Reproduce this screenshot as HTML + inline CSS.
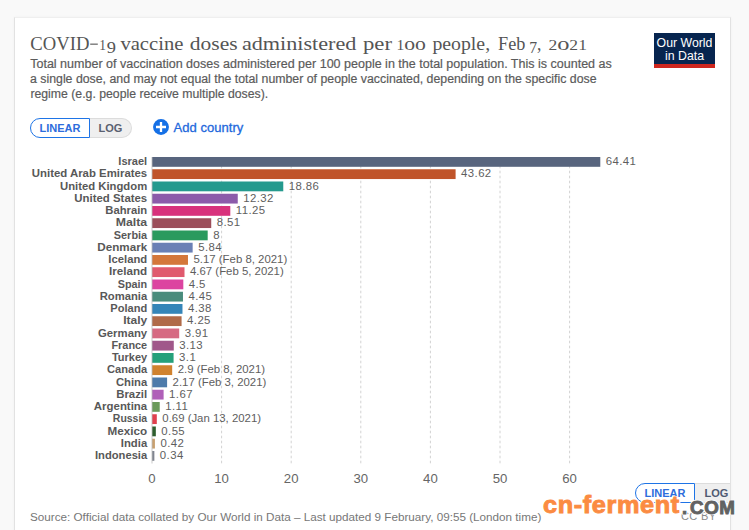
<!DOCTYPE html>
<html><head><meta charset="utf-8">
<style>
html,body{margin:0;padding:0;}
body{width:749px;height:530px;overflow:hidden;background:#f9f9f9;position:relative;font-family:"Liberation Sans",sans-serif;}
.card{position:absolute;left:14px;top:17px;width:715px;height:600px;background:#fff;border-left:1px solid #e2e2e2;border-right:1px solid #e2e2e2;border-top:1px solid #efefef;box-shadow:0 0 3px rgba(0,0,0,0.035);}
.logo{position:absolute;left:654px;top:33px;width:61px;height:31px;background:#07254f;border-bottom:4px solid #ce261e;color:#fff;font-size:12.3px;line-height:13.6px;text-align:center;}
.logo div{position:relative;top:3.8px;}
.tog{position:absolute;top:118px;height:19.6px;box-sizing:border-box;font-size:11px;font-weight:bold;line-height:18px;text-align:center;}
.lin{left:30px;width:60px;border:1.5px solid #1e74e6;border-radius:10px 0 0 10px;color:#2d6ddc;background:#fff;}
.log{left:90px;width:42px;border:1px solid #dcdcdc;border-left:none;border-radius:0 10px 10px 0;background:#efefef;color:#5a6070;}
.add{position:absolute;left:173.5px;top:119.5px;font-size:13px;color:#2268dc;white-space:nowrap;-webkit-text-stroke:0.3px #2268dc;letter-spacing:0.05px;}
.plus{position:absolute;left:153px;top:119px;overflow:visible;}
svg.chart{position:absolute;left:0;top:0;}
.ttl{font-family:"Liberation Serif",serif;font-size:19.8px;fill:#555;}
.sub2{font-family:"Liberation Sans",sans-serif;font-size:12.45px;fill:#5b5b5b;stroke:#5b5b5b;stroke-width:0.2px;}
.lab{font-family:"Liberation Sans",sans-serif;font-size:11px;font-weight:bold;fill:#585858;}
.val{font-family:"Liberation Sans",sans-serif;font-size:11.4px;fill:#5e5e5e;}
.ax{font-family:"Liberation Sans",sans-serif;font-size:13.2px;fill:#666;}
.src{position:absolute;left:30px;top:510px;font-size:11.7px;color:#777;white-space:nowrap;}
.cc{position:absolute;left:681px;top:510.3px;font-size:11px;color:#8a8a8a;letter-spacing:0.35px;white-space:nowrap;}
.tog2{position:absolute;top:483px;height:19.6px;box-sizing:border-box;font-size:11px;font-weight:bold;line-height:18.4px;text-align:center;}
.lin2{left:635px;width:60px;border:1.5px solid #1e74e6;border-radius:10px 0 0 10px;color:#2d6ddc;background:#fff;}
.log2{left:695px;width:35px;border-top:1px solid #dcdcdc;border-bottom:1px solid #dcdcdc;background:#efefef;color:#4f5a72;text-indent:9.5px;text-align:left;overflow:hidden;}
.wm{position:absolute;font-weight:bold;white-space:nowrap;transform-origin:0 0;-webkit-text-stroke:0.9px;text-shadow:1.2px 0 #fff,-1.2px 0 #fff,0 1.2px #fff,0 -1.2px #fff,1px 1px #fff,-1px -1px #fff,1px -1px #fff,-1px 1px #fff,0 0 3px #fff;line-height:1;}
.wm1{left:542.5px;top:493.1px;font-size:24px;color:#fb8b42;-webkit-text-stroke-color:#fb8b42;transform:scaleX(1.053);letter-spacing:0.6px;}
.wm2{left:682px;top:499px;font-size:18.4px;color:#626262;-webkit-text-stroke-color:#626262;}
.wm3{left:689.5px;top:499px;font-size:18.4px;color:#626262;-webkit-text-stroke-color:#626262;transform:scaleX(1.02);letter-spacing:0.6px;}
</style></head><body>
<div class="card"></div>
<div class="logo"><div>Our World<br>in Data</div></div>
<div class="tog lin">LINEAR</div><div class="tog log">LOG</div>
<svg class="plus" width="16" height="16" viewBox="0 0 16 16"><circle cx="8" cy="8" r="7.95" fill="#1570e6"/><path d="M8 3V13M3 8H13" stroke="#fff" stroke-width="2.3"/></svg>
<div class="add">Add country</div>
<svg class="chart" width="749" height="530">
<line x1="221.60" y1="157.0" x2="221.60" y2="463.5" stroke="#d2d2d2" stroke-width="1" stroke-dasharray="2.6,2.4" stroke-dashoffset="1.3"/>
<line x1="291.20" y1="157.0" x2="291.20" y2="463.5" stroke="#d2d2d2" stroke-width="1" stroke-dasharray="2.6,2.4" stroke-dashoffset="1.3"/>
<line x1="360.80" y1="157.0" x2="360.80" y2="463.5" stroke="#d2d2d2" stroke-width="1" stroke-dasharray="2.6,2.4" stroke-dashoffset="1.3"/>
<line x1="430.40" y1="157.0" x2="430.40" y2="463.5" stroke="#d2d2d2" stroke-width="1" stroke-dasharray="2.6,2.4" stroke-dashoffset="1.3"/>
<line x1="500.00" y1="157.0" x2="500.00" y2="463.5" stroke="#d2d2d2" stroke-width="1" stroke-dasharray="2.6,2.4" stroke-dashoffset="1.3"/>
<line x1="569.60" y1="157.0" x2="569.60" y2="463.5" stroke="#d2d2d2" stroke-width="1" stroke-dasharray="2.6,2.4" stroke-dashoffset="1.3"/>
<rect x="152.00" y="157.00" width="448.29" height="9.8" fill="#58657e"/>
<rect x="152.00" y="169.25" width="303.60" height="9.8" fill="#c0542a"/>
<rect x="152.00" y="181.50" width="131.27" height="9.8" fill="#259a8e"/>
<rect x="152.00" y="193.75" width="85.75" height="9.8" fill="#8c5baa"/>
<rect x="152.00" y="206.00" width="78.30" height="9.8" fill="#d8327c"/>
<rect x="152.00" y="218.25" width="59.23" height="9.8" fill="#9c4e5a"/>
<rect x="152.00" y="230.50" width="55.68" height="9.8" fill="#2a9a5e"/>
<rect x="152.00" y="242.75" width="40.65" height="9.8" fill="#6a80b5"/>
<rect x="152.00" y="255.00" width="35.98" height="9.8" fill="#d4773a"/>
<rect x="152.00" y="267.25" width="32.50" height="9.8" fill="#e05a6e"/>
<rect x="152.00" y="279.50" width="31.32" height="9.8" fill="#dc44a0"/>
<rect x="152.00" y="291.75" width="30.97" height="9.8" fill="#4a8c7c"/>
<rect x="152.00" y="304.00" width="30.48" height="9.8" fill="#3585b8"/>
<rect x="152.00" y="316.25" width="29.58" height="9.8" fill="#b06a48"/>
<rect x="152.00" y="328.50" width="27.21" height="9.8" fill="#d66a82"/>
<rect x="152.00" y="340.75" width="21.78" height="9.8" fill="#a0578a"/>
<rect x="152.00" y="353.00" width="21.58" height="9.8" fill="#25a07a"/>
<rect x="152.00" y="365.25" width="20.18" height="9.8" fill="#d0822e"/>
<rect x="152.00" y="377.50" width="15.10" height="9.8" fill="#4e7baa"/>
<rect x="152.00" y="389.75" width="11.62" height="9.8" fill="#b060b8"/>
<rect x="152.00" y="402.00" width="7.73" height="9.8" fill="#6a9a5a"/>
<rect x="152.00" y="414.25" width="4.80" height="9.8" fill="#e0404e"/>
<rect x="152.00" y="426.50" width="3.83" height="9.8" fill="#2e5e2e"/>
<rect x="152.00" y="438.75" width="2.92" height="9.8" fill="#c8a070"/>
<rect x="152.00" y="451.00" width="2.37" height="9.8" fill="#808590"/>
<line x1="152.0" y1="157.0" x2="152.0" y2="463.5" stroke="#bbb" stroke-width="0.8"/>
<text x="147.2" y="165.00" text-anchor="end" class="lab" textLength="28.85" lengthAdjust="spacingAndGlyphs">Israel</text>
<text x="605.79" y="165.00" class="val" letter-spacing="0.4">64.41</text>
<text x="147.2" y="177.25" text-anchor="end" class="lab" textLength="115.40" lengthAdjust="spacingAndGlyphs">United Arab Emirates</text>
<text x="461.10" y="177.25" class="val" letter-spacing="0.4">43.62</text>
<text x="147.2" y="189.50" text-anchor="end" class="lab" textLength="87.15" lengthAdjust="spacingAndGlyphs">United Kingdom</text>
<text x="288.77" y="189.50" class="val" letter-spacing="0.4">18.86</text>
<text x="147.2" y="201.75" text-anchor="end" class="lab" textLength="72.82" lengthAdjust="spacingAndGlyphs">United States</text>
<text x="243.25" y="201.75" class="val" letter-spacing="0.4">12.32</text>
<text x="147.2" y="214.00" text-anchor="end" class="lab" textLength="41.88" lengthAdjust="spacingAndGlyphs">Bahrain</text>
<text x="235.80" y="214.00" class="val" letter-spacing="0.4">11.25</text>
<text x="147.2" y="226.25" text-anchor="end" class="lab" textLength="31.49" lengthAdjust="spacingAndGlyphs">Malta</text>
<text x="216.73" y="226.25" class="val" letter-spacing="0.4">8.51</text>
<text x="147.2" y="238.50" text-anchor="end" class="lab" textLength="33.44" lengthAdjust="spacingAndGlyphs">Serbia</text>
<text x="213.18" y="238.50" class="val" letter-spacing="0.4">8</text>
<text x="147.2" y="250.75" text-anchor="end" class="lab" textLength="49.91" lengthAdjust="spacingAndGlyphs">Denmark</text>
<text x="198.15" y="250.75" class="val" letter-spacing="0.4">5.84</text>
<text x="147.2" y="263.00" text-anchor="end" class="lab" textLength="38.81" lengthAdjust="spacingAndGlyphs">Iceland</text>
<text x="193.48" y="263.00" class="val">5.17 (Feb 8, 2021)</text>
<text x="147.2" y="275.25" text-anchor="end" class="lab" textLength="38.21" lengthAdjust="spacingAndGlyphs">Ireland</text>
<text x="190.00" y="275.25" class="val">4.67 (Feb 5, 2021)</text>
<text x="147.2" y="287.50" text-anchor="end" class="lab" textLength="29.45" lengthAdjust="spacingAndGlyphs">Spain</text>
<text x="188.82" y="287.50" class="val" letter-spacing="0.4">4.5</text>
<text x="147.2" y="299.75" text-anchor="end" class="lab" textLength="47.49" lengthAdjust="spacingAndGlyphs">Romania</text>
<text x="188.47" y="299.75" class="val" letter-spacing="0.4">4.45</text>
<text x="147.2" y="312.00" text-anchor="end" class="lab" textLength="36.87" lengthAdjust="spacingAndGlyphs">Poland</text>
<text x="187.98" y="312.00" class="val" letter-spacing="0.4">4.38</text>
<text x="147.2" y="324.25" text-anchor="end" class="lab" textLength="24.05" lengthAdjust="spacingAndGlyphs">Italy</text>
<text x="187.08" y="324.25" class="val" letter-spacing="0.4">4.25</text>
<text x="147.2" y="336.50" text-anchor="end" class="lab" textLength="49.21" lengthAdjust="spacingAndGlyphs">Germany</text>
<text x="184.71" y="336.50" class="val" letter-spacing="0.4">3.91</text>
<text x="147.2" y="348.75" text-anchor="end" class="lab" textLength="35.77" lengthAdjust="spacingAndGlyphs">France</text>
<text x="179.28" y="348.75" class="val" letter-spacing="0.4">3.13</text>
<text x="147.2" y="361.00" text-anchor="end" class="lab" textLength="35.27" lengthAdjust="spacingAndGlyphs">Turkey</text>
<text x="179.08" y="361.00" class="val" letter-spacing="0.4">3.1</text>
<text x="147.2" y="373.25" text-anchor="end" class="lab" textLength="40.15" lengthAdjust="spacingAndGlyphs">Canada</text>
<text x="177.68" y="373.25" class="val">2.9 (Feb 8, 2021)</text>
<text x="147.2" y="385.50" text-anchor="end" class="lab" textLength="31.26" lengthAdjust="spacingAndGlyphs">China</text>
<text x="172.60" y="385.50" class="val">2.17 (Feb 3, 2021)</text>
<text x="147.2" y="397.75" text-anchor="end" class="lab" textLength="30.98" lengthAdjust="spacingAndGlyphs">Brazil</text>
<text x="169.12" y="397.75" class="val" letter-spacing="0.4">1.67</text>
<text x="147.2" y="410.00" text-anchor="end" class="lab" textLength="53.33" lengthAdjust="spacingAndGlyphs">Argentina</text>
<text x="165.23" y="410.00" class="val" letter-spacing="0.4">1.11</text>
<text x="147.2" y="422.25" text-anchor="end" class="lab" textLength="34.36" lengthAdjust="spacingAndGlyphs">Russia</text>
<text x="162.30" y="422.25" class="val">0.69 (Jan 13, 2021)</text>
<text x="147.2" y="434.50" text-anchor="end" class="lab" textLength="39.64" lengthAdjust="spacingAndGlyphs">Mexico</text>
<text x="161.33" y="434.50" class="val" letter-spacing="0.4">0.55</text>
<text x="147.2" y="446.75" text-anchor="end" class="lab" textLength="26.37" lengthAdjust="spacingAndGlyphs">India</text>
<text x="160.42" y="446.75" class="val" letter-spacing="0.4">0.42</text>
<text x="147.2" y="459.00" text-anchor="end" class="lab" textLength="52.26" lengthAdjust="spacingAndGlyphs">Indonesia</text>
<text x="159.87" y="459.00" class="val" letter-spacing="0.4">0.34</text>
<text x="152.0" y="482.6" text-anchor="middle" class="ax">0</text>
<text x="221.6" y="482.6" text-anchor="middle" class="ax">10</text>
<text x="291.2" y="482.6" text-anchor="middle" class="ax">20</text>
<text x="360.8" y="482.6" text-anchor="middle" class="ax">30</text>
<text x="430.4" y="482.6" text-anchor="middle" class="ax">40</text>
<text x="500.0" y="482.6" text-anchor="middle" class="ax">50</text>
<text x="569.6" y="482.6" text-anchor="middle" class="ax">60</text>
<text x="30.3" y="49.8" class="ttl" textLength="59.1" lengthAdjust="spacingAndGlyphs">COVID</text>
<text x="99.2" y="49.8" class="ttl" textLength="6.7" lengthAdjust="spacingAndGlyphs"><tspan font-size="14.2">1</tspan></text>
<text x="106.8" y="49.8" class="ttl" textLength="9.2" lengthAdjust="spacingAndGlyphs"><tspan font-size="17.6" dy="3.0">9</tspan></text>
<text x="120.4" y="49.8" class="ttl" textLength="63.0" lengthAdjust="spacingAndGlyphs">vaccine</text>
<text x="189.8" y="49.8" class="ttl" textLength="47.8" lengthAdjust="spacingAndGlyphs">doses</text>
<text x="241.9" y="49.8" class="ttl" textLength="114.5" lengthAdjust="spacingAndGlyphs">administered</text>
<text x="363.0" y="49.8" class="ttl" textLength="29.0" lengthAdjust="spacingAndGlyphs">per</text>
<text x="396.4" y="49.8" class="ttl" textLength="29.5" lengthAdjust="spacingAndGlyphs"><tspan font-size="14.2">1</tspan>oo</text>
<text x="432.4" y="49.8" class="ttl" textLength="57.7" lengthAdjust="spacingAndGlyphs">people,</text>
<text x="498.1" y="49.8" class="ttl" textLength="27.3" lengthAdjust="spacingAndGlyphs">Feb</text>
<text x="529.2" y="49.8" class="ttl" textLength="12.2" lengthAdjust="spacingAndGlyphs"><tspan font-size="17.6" dy="3.0">7</tspan><tspan dy="-3.0">,</tspan></text>
<text x="548.4" y="49.8" class="ttl" textLength="38.5" lengthAdjust="spacingAndGlyphs"><tspan font-size="14.2">2</tspan>o<tspan font-size="14.2">21</tspan></text>
<rect x="90.2" y="43.6" width="7.6" height="1.1" fill="#555"/>
<text x="30.2" y="67.6" class="sub2" textLength="581.6" lengthAdjust="spacingAndGlyphs">Total number of vaccination doses administered per 100 people in the total population. This is counted as</text>
<text x="30.0" y="82.6" class="sub2" textLength="566.5" lengthAdjust="spacingAndGlyphs">a single dose, and may not equal the total number of people vaccinated, depending on the specific dose</text>
<text x="30.4" y="97.5" class="sub2" textLength="237.8" lengthAdjust="spacingAndGlyphs">regime (e.g. people receive multiple doses).</text>
</svg>
<div class="src">Source: Official data collated by Our World in Data – Last updated 9 February, 09:55 (London time)</div>
<div class="cc">CC BY</div>
<div class="tog2 lin2">LINEAR</div><div class="tog2 log2">LOG</div>
<div class="wm wm1">cn-ferment</div><div class="wm wm2">.</div><div class="wm wm3">COM</div>
</body></html>
